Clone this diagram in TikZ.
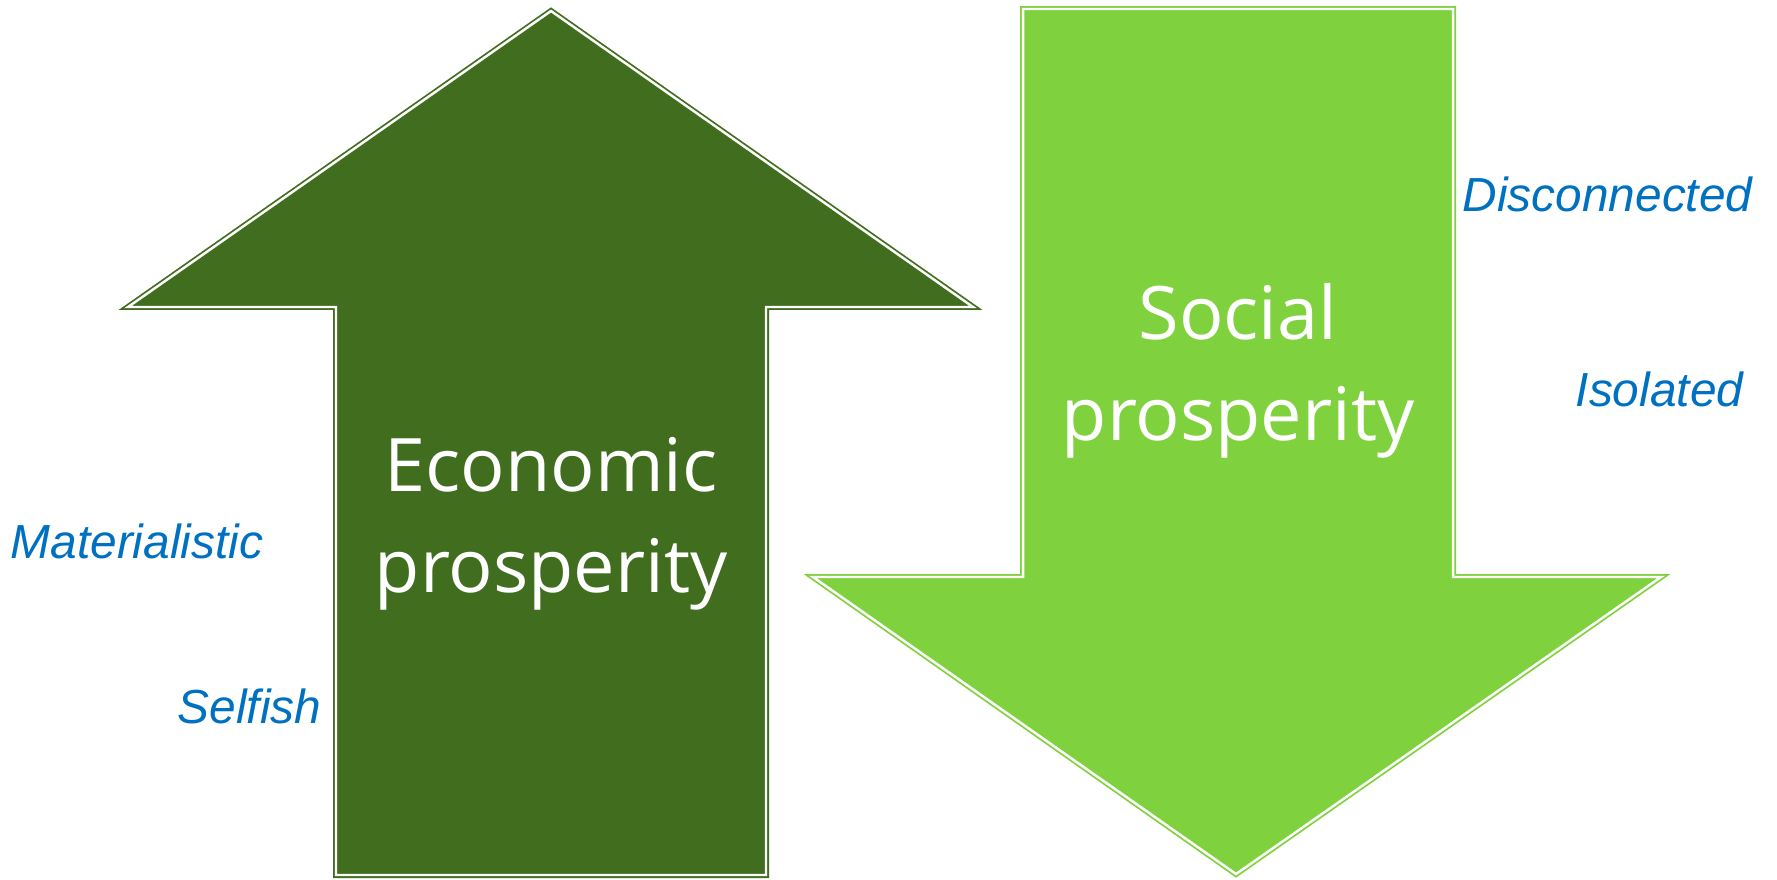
\documentclass[tikz,border=0pt]{standalone}
\usepackage{fontspec}
\setmainfont{Open Sans}
\newfontfamily\labelfont{Liberation Sans}
\definecolor{darkleaf}{HTML}{416D1E}
\definecolor{lightleaf}{HTML}{7FD23D}
\definecolor{labelblue}{HTML}{0070C0}
\begin{document}
\begin{tikzpicture}[x=0.01cm,y=-0.01cm,
  bigarrow/.style={line width=0.5pt,double=white,double distance=0.7pt,line join=miter},
  arrowtext/.style={white,align=center,anchor=base,font=\fontsize{21}{28.7}\selectfont},
  sidelabel/.style={labelblue,anchor=base west,inner sep=0pt,font=\labelfont\itshape\fontsize{13.6}{16}\selectfont}]
  \useasboundingbox (0,0) rectangle (1777,879);

  % Arrows
  \filldraw[bigarrow,draw=darkleaf,fill=darkleaf] (551,11) -- (973,307) -- (766,307) -- (766,875)
    -- (336,875) -- (336,307) -- (128,307) -- cycle;
  \filldraw[bigarrow,draw=lightleaf,fill=lightleaf] (1023,9) -- (1453,9) -- (1453,577) -- (1661,577)
    -- (1236,874) -- (813,577) -- (1023,577) -- cycle;

  % Texts (base is the last line)
  \node[arrowtext] (economic) at (551,592) {Economic\\prosperity};
  \node[arrowtext] (social) at (1238,440) {Social\\prosperity};

  % Labels
  \node[sidelabel] (materialistic) at (10,558) {Materialistic};
  \node[sidelabel] (selfish) at (177,723) {Selfish};
  \node[sidelabel] (disconnected) at (1462,211) {Disconnected};
  \node[sidelabel] (isolated) at (1575,406) {Isolated};

\end{tikzpicture}
\end{document}
